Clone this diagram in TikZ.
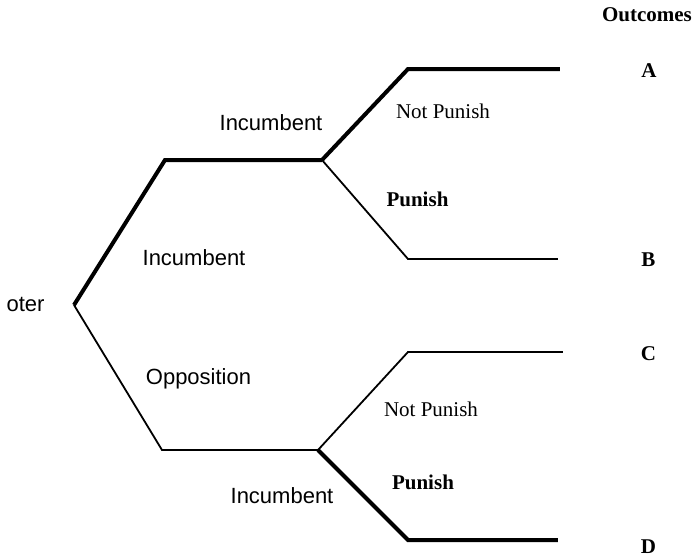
\documentclass[tikz,border=0pt]{standalone}
\usepackage{fontspec}
\setmainfont{Liberation Serif}
\setsansfont{Liberation Sans}
\usetikzlibrary{positioning}

\tikzset{
  thin branch/.style={line width=0.9pt},
  thick branch/.style={line width=2pt},
  player/.style={font=\sffamily\fontsize{11}{13}\selectfont},
  action/.style={font=\fontsize{10.5}{12}\selectfont},
  outcome/.style={font=\bfseries\fontsize{10.5}{12}\selectfont}
}

\begin{document}
\begin{tikzpicture}[x=0.5pt,y=-0.5pt]
\useasboundingbox (0,0) rectangle (693,558);

% branch points
\coordinate (v) at (74,305);
\coordinate (u1) at (165,160);
\coordinate (i1) at (322,160);
\coordinate (l1) at (162,450);
\coordinate (i2) at (318,450);

% ends
\coordinate (a1) at (408,69);   \coordinate (a2) at (560,69);
\coordinate (b1) at (408,259);  \coordinate (b2) at (558,259);
\coordinate (c1) at (408,352);  \coordinate (c2) at (563,352);
\coordinate (d1) at (408,540);  \coordinate (d2) at (558,540);

% voter
\draw[thick branch] (v) -- (u1) -- (i1);
\draw[thin branch] (v) -- (l1) -- (i2);

% upper incumbent
\draw[thick branch] (i1) -- (a1) -- (a2);
\draw[thin branch] (i1) -- (b1) -- (b2);

% lower incumbent
\draw[thin branch] (i2) -- (c1) -- (c2);
\draw[thick branch] (i2) -- (d1) -- (d2);

% labels
\node[player] (voter) at (25.5,304) {oter};
\node[player] (inc1) at (271,123) {Incumbent};
\node[player] (inc) at (194,258) {Incumbent};
\node[player] (opp) at (198.5,379) {Opposition};
\node[player] (inc2) at (282,496) {Incumbent};

\node[action] (np1) at (443,111) {Not Punish};
\node[action,font=\bfseries\fontsize{10.5}{12}\selectfont] (p1) at (417.5,199) {Punish};
\node[action] (np2) at (431,409) {Not Punish};
\node[action,font=\bfseries\fontsize{10.5}{12}\selectfont] (p2) at (423,482) {Punish};

% outcomes
\node[outcome] (out) at (647,15) {Outcomes};
\node[outcome] (A) at (649,71) {A};
\node[outcome] (B) at (648.5,260) {B};
\node[outcome] (C) at (648.5,354) {C};
\node[outcome] (D) at (648.5,547) {D};

\end{tikzpicture}
\end{document}
